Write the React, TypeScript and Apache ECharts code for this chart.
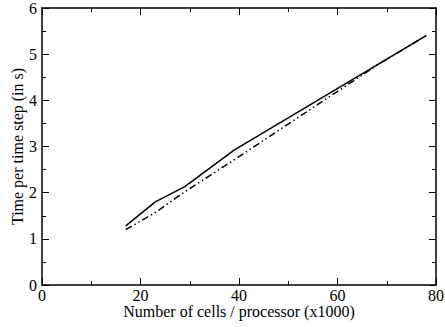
import React, { useEffect, useRef } from "react";
import * as echarts from "echarts";

const cells = [17, 23, 29, 39, 78];
const timeSolid = [1.28, 1.8, 2.13, 2.92, 5.4];
const cellsDash = [17, 23, 29, 39, 68, 78];
const timeDash = [1.2, 1.57, 2.02, 2.71, 4.76, 5.4];
const xTitle = "Number of cells / processor (x1000)";
const yTitle = "Time per time step (in s)";

const FONT = "'Liberation Serif', 'DejaVu Serif', serif";

export default function App() {
  const ref = useRef<HTMLDivElement>(null);
  useEffect(() => {
    if (!ref.current) return;
    const chart = echarts.init(ref.current, undefined, { renderer: "svg" });
    const axisCommon = {
      axisLine: { show: true, onZero: false, lineStyle: { color: "#000", width: 1.5 } },
      axisTick: { show: true, inside: true, length: 7, lineStyle: { color: "#000", width: 1 } },
      minorTick: { show: true, splitNumber: 2, length: 4, lineStyle: { color: "#000", width: 1 } },
      splitLine: { show: false },
      minorSplitLine: { show: false },
    };
    chart.setOption({
      animation: false,
      backgroundColor: "#fff",
      grid: { left: 42, right: 9, top: 8, bottom: 42, containLabel: false, outerBoundsMode: "none" },
      xAxis: [
        {
          type: "value",
          min: 0,
          max: 80,
          interval: 20,
          position: "bottom",
          ...axisCommon,
          axisLabel: { color: "#000", fontFamily: FONT, fontSize: 16, margin: 2, lineHeight: 16 },
          name: xTitle,
          nameLocation: "middle",
          nameGap: 18,
          nameMoveOverlap: false,
          nameTextStyle: { color: "#000", fontFamily: FONT, fontSize: 16, lineHeight: 16 },
        },
        {
          type: "value",
          min: 0,
          max: 80,
          interval: 20,
          position: "top",
          ...axisCommon,
          axisLabel: { show: false },
        },
      ],
      yAxis: [
        {
          type: "value",
          min: 0,
          max: 6,
          interval: 1,
          position: "left",
          ...axisCommon,
          axisLabel: { color: "#000", fontFamily: FONT, fontSize: 16, margin: 5 },
          name: yTitle,
          nameLocation: "middle",
          nameGap: 17,
          nameMoveOverlap: false,
          nameTextStyle: { color: "#000", fontFamily: FONT, fontSize: 16 },
        },
        {
          type: "value",
          min: 0,
          max: 6,
          interval: 1,
          position: "right",
          ...axisCommon,
          axisLabel: { show: false },
        },
      ],
      series: [
        {
          type: "line",
          data: cells.map((c, i) => [c, timeSolid[i]]),
          showSymbol: false,
          symbol: "none",
          lineStyle: { color: "#000", width: 1.5, type: "solid" },
        },
        {
          type: "line",
          data: cellsDash.map((c, i) => [c, timeDash[i]]),
          showSymbol: false,
          symbol: "none",
          lineStyle: { color: "#000", width: 1.5, type: [7, 3, 1.5, 3, 1.5, 3] },
        },
      ],
    });
    return () => chart.dispose();
  }, []);
  return <div ref={ref} style={{ width: 445, height: 327, position: "absolute", left: 0, top: 0 }} />;
}
